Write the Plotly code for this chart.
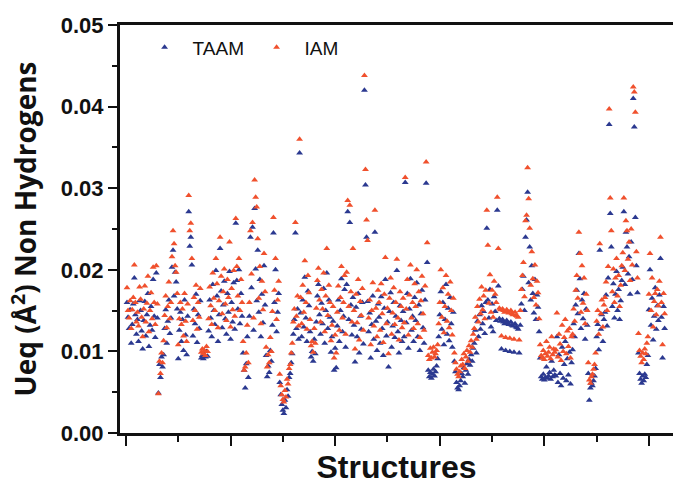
import plotly.graph_objects as go

# Ueq values of non-hydrogen atoms, in units of 1e-4 A^2, atom by atom (structures in sequence)
taam_ueq_1e4 = [
    160,142,128,151,110,133,158,190,145,121,139,112,162,
    150,125,103,138,161,119,145,171,106,132,155,126,188,143,117,196,141,
    49,84,68,93,81,
    96,128,151,110,137,163,122,
    141,203,224,168,197,185,152,
    91,126,148,112,139,101,163,120,96,143,
    271,229,240,206,
    119,152,134,170,111,145,128,162,
    92,95,91,96,93,100,94,
    125,163,141,118,182,150,133,199,168,112,145,226,174,129,157,186,140,121,171,148,198,115,160,136,184,127,
    257,187,152,200,134,171,143,
    98,77,55,85,118,68,
    143,240,178,252,126,275,201,162,224,148,188,118,170,135,205,157,
    95,69,82,74,101,88,
    132,245,160,200,124,148,171,
    62,47,35,28,24,40,31,53,45,68,73,86,97,
    121,139,245,128,152,115,343,
    147,118,163,130,191,141,112,174,156,124,93,100,88,115,97,136,168,182,145,121,159,134,177,110,150,196,128,163,142,99,118,137,77,104,
    80,131,163,112,150,189,124,143,176,105,
    182,271,139,258,157,120,166,
    132,87,154,118,171,98,143,127,160,109,
    420,304,240,161,
    124,147,92,133,168,115,
    246,
    137,101,158,
    142,110,167,128,95,153,188,119,136,81,149,172,105,131,160,117,143,199,124,98,156,138,112,
    149,118,307,
    135,171,104,152,189,126,143,112,166,138,184,118,157,101,146,175,129,110,163,
    306,209,
    77,69,74,67,72,78,70,75,82,91,
    118,145,173,127,160,108,139,182,121,153,113,166,134,105,148,
    88,75,62,55,53,58,64,73,69,80,61,77,85,72,90,83,96,88,104,
    110,126,98,137,118,145,127,156,134,149,122,160,
    251,163,
    141,176,130,158,124,167,149,138,
    273,180,
    140,137,103,139,136,134,101,138,135,133,100,136,132,131,99,134,130,129,127,98,
    132,158,176,192,150,240,261,295,184,228,163,205,171,147,188,139,169,154,
    124,92,69,66,72,65,68,81,67,70,74,66,88,69,77,71,
    70,118,62,96,73,58,105,67,84,112,64,91,71,99,60,86,
    102,134,118,157,175,146,220,189,128,163,140,171,115,152,132,
    73,40,55,61,58,64,70,79,
    118,133,102,224,127,145,112,139,
    148,169,131,190,
    378,269,228,
    155,183,141,170,198,150,176,139,162,187,
    203,271,182,246,228,195,216,170,234,188,
    410,375,264,205,172,
    98,73,66,61,70,64,72,68,84,95,
    151,200,132,165,114,143,178,127,156,138,169,
    214,142,92,155,128,
]

iam_ueq_1e4 = [
    178,150,141,162,128,151,166,206,160,136,148,131,179,
    164,142,118,152,180,136,159,192,124,150,172,140,203,160,133,205,158,
    48,88,73,98,86,
    113,144,168,129,155,185,140,
    160,216,248,232,205,197,171,
    108,140,160,133,152,119,171,137,112,158,
    291,248,257,214,
    138,166,150,181,127,160,142,177,
    99,103,97,101,95,106,100,
    140,179,156,133,196,165,150,214,183,129,162,240,192,146,173,201,158,138,188,166,234,130,177,151,199,143,
    263,204,168,214,150,188,160,
    112,77,81,98,132,86,
    160,248,195,258,141,310,289,277,238,165,204,134,186,151,220,173,
    105,81,96,86,117,100,
    149,264,175,214,139,163,186,
    72,58,47,41,38,52,44,66,60,79,84,98,110,
    136,152,258,143,168,131,360,
    166,134,181,148,211,160,127,193,172,139,107,112,99,128,110,153,187,202,163,136,176,152,196,124,168,226,144,181,160,113,132,155,92,120,
    98,148,180,126,166,204,141,160,193,121,
    197,285,155,279,173,136,226,
    150,103,170,135,188,114,161,144,177,126,
    438,323,261,236,
    141,163,108,150,184,131,
    273,
    153,118,175,
    160,126,183,146,111,170,215,134,153,97,165,190,121,147,178,133,160,213,141,114,173,155,129,
    165,135,313,
    152,188,120,169,206,141,160,128,183,155,200,134,173,117,162,192,146,126,180,
    332,233,
    95,90,104,92,99,105,93,97,101,108,
    134,160,200,142,178,123,155,193,137,170,129,185,150,120,165,
    98,86,78,72,69,75,82,90,84,97,79,93,101,88,107,99,113,105,121,
    128,142,115,155,136,164,146,179,151,168,140,175,
    273,230,
    159,194,148,175,142,186,170,160,
    289,226,
    153,151,119,152,150,148,117,151,149,147,116,150,146,145,115,148,144,143,142,114,
    150,176,193,209,167,260,267,325,287,251,181,222,189,166,206,157,186,172,
    140,108,95,92,101,90,97,112,94,99,105,91,118,96,103,99,
    102,147,93,121,109,89,132,100,117,139,97,125,106,128,92,118,
    121,152,137,175,193,165,246,220,148,205,159,190,134,170,150,
    86,65,61,69,72,78,84,98,
    137,150,121,232,146,163,130,157,
    166,185,150,204,
    397,288,248,
    173,201,160,190,214,168,193,155,181,205,
    221,288,199,260,248,213,234,187,250,206,
    424,418,393,222,190,
    122,101,94,86,98,90,103,97,110,118,
    170,220,150,190,130,161,171,145,176,156,186,
    240,160,108,171,146,
]

series_names = ["TAAM", "IAM"]
series_colors = ["#2b3990", "#f0502d"]
y_tick_labels = ["0.00", "0.01", "0.02", "0.03", "0.04", "0.05"]
y_tick_values = [0.0, 0.01, 0.02, 0.03, 0.04, 0.05]

assert len(taam_ueq_1e4) == len(iam_ueq_1e4)
atom_index = list(range(1, len(taam_ueq_1e4) + 1))
taam = [v / 1e4 for v in taam_ueq_1e4]
iam = [v / 1e4 for v in iam_ueq_1e4]

fig = go.Figure()
for name, color, vals in zip(series_names, series_colors, [taam, iam]):
    fig.add_trace(go.Scatter(
        x=atom_index, y=vals, mode="markers", name=name,
        marker=dict(symbol="triangle-up", size=6, color=color, line=dict(width=0)),
    ))

fig.update_layout(
    width=673, height=485,
    margin=dict(l=120, r=0, t=25, b=52),
    plot_bgcolor="white", paper_bgcolor="white",
    showlegend=True,
    legend=dict(
        orientation="h", x=0.03, y=0.945, xanchor="left", yanchor="middle",
        font=dict(family="Liberation Sans, Arial", size=19, color="#111"),
        bgcolor="rgba(0,0,0,0)", itemsizing="trace", itemwidth=46,
        entrywidth=51,
    ),
)

fig.update_xaxes(
    range=[-5.7, 523], showgrid=False, zeroline=False,
    showline=True, linewidth=3, linecolor="#111", mirror=True,
    ticks="outside", ticklen=10, tickwidth=2, tickcolor="#111",
    tick0=0, dtick=100, showticklabels=False,
    minor=dict(ticks="outside", ticklen=6, tickwidth=2, tickcolor="#111", tick0=0, dtick=50),
    title=dict(text="Structures", standoff=15,
               font=dict(family="Liberation Sans, Arial", size=32, color="#111", weight="bold")),
)

fig.update_yaxes(
    range=[0, 0.05], showgrid=False, zeroline=False,
    showline=True, linewidth=3, linecolor="#111",
    ticks="outside", ticklen=9, tickwidth=2, tickcolor="#111",
    tickvals=y_tick_values, ticktext=y_tick_labels,
    tickfont=dict(family="Liberation Sans, Arial", size=22, color="#111", weight="bold"),
    minor=dict(ticks="outside", ticklen=5, tickwidth=2, tickcolor="#111", tick0=0, dtick=0.005),
    title=dict(text="Ueq (Å<sup>2</sup>) Non Hydrogens", standoff=16,
               font=dict(family="Open Sans", size=28, color="#111", weight="bold")),
)

fig.write_html("out.html")
